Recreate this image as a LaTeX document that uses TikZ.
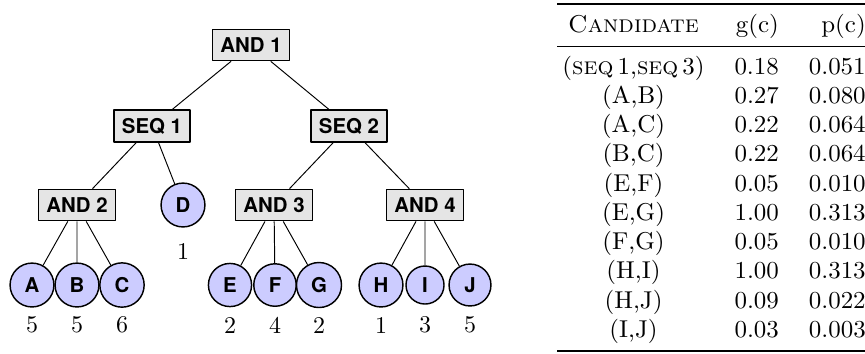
\documentclass[tikz,border=0pt]{standalone}
\usepackage{fontspec}
\usepackage{booktabs}
\newfontfamily\treefont{TeX Gyre Heros}

\begin{document}
\begin{tikzpicture}[x=0.41667pt,y=-0.41667pt,line join=round,
gate/.style={draw,semithick,fill=black!10,inner sep=3.4pt,font=\treefont\bfseries\fontsize{8.5}{10}\selectfont},
leaf/.style={circle,draw,semithick,fill=blue!20,inner sep=3.4pt,font=\treefont\bfseries\fontsize{8.5}{10}\selectfont}]
\useasboundingbox (0,0) rectangle (865,353);

% inner gates
\node[gate] (and1) at (251,45) {AND 1};
\node[gate] (seq1) at (152,126) {SEQ 1};
\node[gate] (seq2) at (349,126) {SEQ 2};
\node[gate] (and2) at (77,205) {AND 2};
\node[gate] (and3) at (274,205) {AND 3};
\node[gate] (and4) at (425,205) {AND 4};

% leaves with their counts underneath
\node[leaf] (D) at (183,205) {D};
\node (nD) at (183,251) {1};
\foreach \name/\x/\n in {A/32/5,B/77/5,C/122/6,E/230/2,F/275/4,G/319/2,H/381/1,I/425/3,J/470/5}{
  \node[leaf] (\name) at (\x,285) {\name};
  \node (n\name) at (\x,325) {\n};
}

\draw (and1) -- (seq1) (and1) -- (seq2);
\draw (seq1) -- (and2) (seq1) -- (D) (seq2) -- (and3) (seq2) -- (and4);
\draw (and2) -- (A) (and2) -- (B) (and2) -- (C);
\draw (and3) -- (E) (and3) -- (F) (and3) -- (G);
\draw (and4) -- (H) (and4) -- (I) (and4) -- (J);

% candidate table
\node[anchor=north west,inner sep=0pt] (tab) at (557,3) {\scalebox{1.04}[1.015]{%
\begin{tabular}{@{\hspace{2pt}}crr}
\toprule
\textsc{Candidate} & g(c) & p(c) \\
\midrule
(\textsc{seq}\,1,\textsc{seq}\,3) & 0.18 & 0.051 \\
(A,B) & 0.27 & 0.080 \\
(A,C) & 0.22 & 0.064 \\
(B,C) & 0.22 & 0.064 \\
(E,F) & 0.05 & 0.010 \\
(E,G) & 1.00 & 0.313 \\
(F,G) & 0.05 & 0.010 \\
(H,I) & 1.00 & 0.313 \\
(H,J) & 0.09 & 0.022 \\
(I,J) & 0.03 & 0.003 \\
\bottomrule
\end{tabular}}};
\end{tikzpicture}
\end{document}
